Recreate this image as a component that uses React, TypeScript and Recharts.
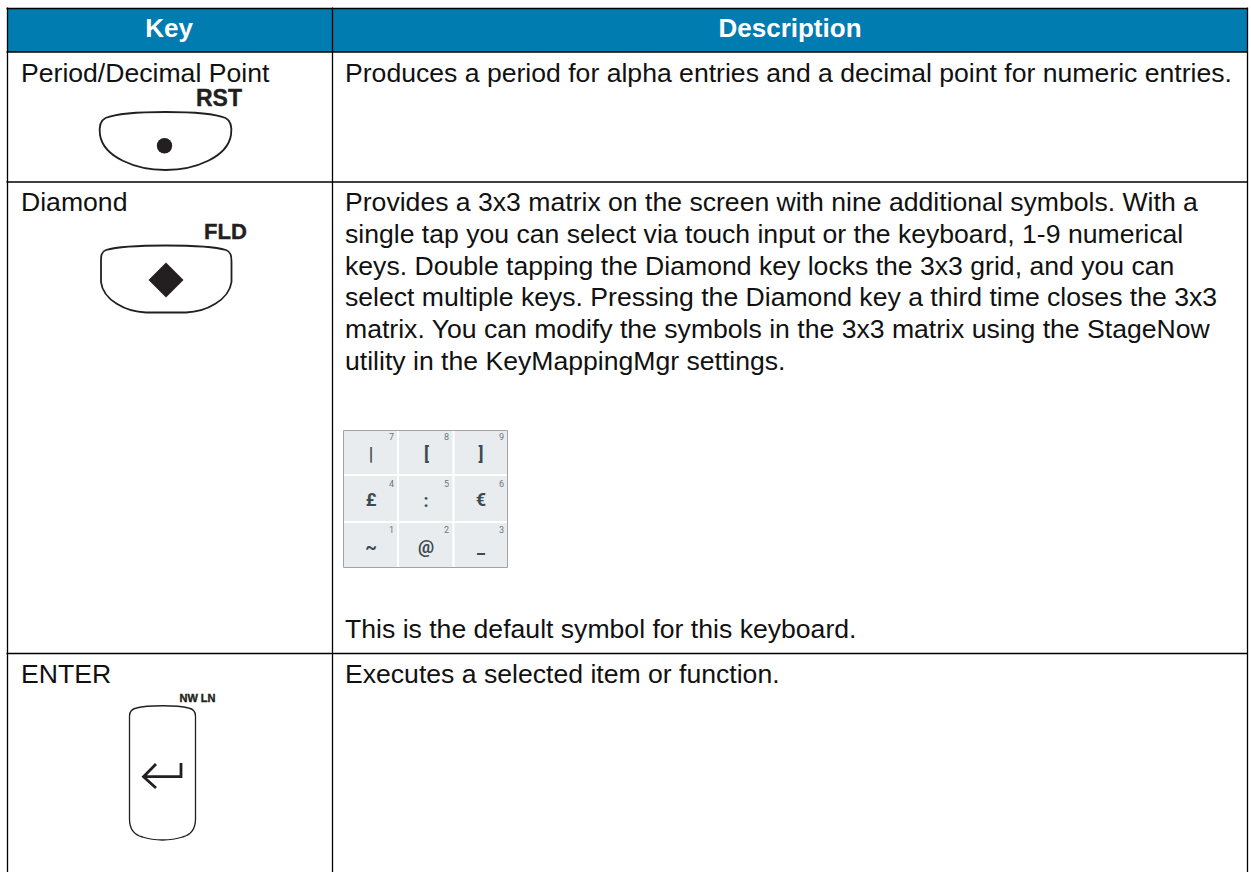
import { ComposedChart, XAxis, YAxis, Scatter, ReferenceLine, ReferenceArea } from 'recharts';

const WIDTH = 1251;
const HEIGHT = 872;

// table grid, in pixel units of the hidden axes
const columnEdges = [7.5, 332.5, 1247.5];
const rowEdges = [8.5, 52, 182, 653.5];

const headerLabels = [
  { x: 169, y: 37, text: 'Key' },
  { x: 790, y: 37, text: 'Description' },
];

const keyNames = [
  { x: 21, y: 81.5, text: 'Period/Decimal Point' },
  { x: 21, y: 211, text: 'Diamond' },
  { x: 21, y: 683, text: 'ENTER' },
];

const keyCaps = [
  { x: 219, y: 106, text: 'RST', size: 23 },
  { x: 225.5, y: 238.5, text: 'FLD', size: 22 },
  { x: 197.5, y: 702, text: 'NW LN', size: 11 },
];

const descriptionLines = [
  { x: 345, y: 81.5, text: 'Produces a period for alpha entries and a decimal point for numeric entries.' },
  { x: 345, y: 211, text: 'Provides a 3x3 matrix on the screen with nine additional symbols. With a' },
  { x: 345, y: 242.5, text: 'single tap you can select via touch input or the keyboard, 1-9 numerical' },
  { x: 345, y: 274.5, text: 'keys. Double tapping the Diamond key locks the 3x3 grid, and you can' },
  { x: 345, y: 306, text: 'select multiple keys. Pressing the Diamond key a third time closes the 3x3' },
  { x: 345, y: 338, text: 'matrix. You can modify the symbols in the 3x3 matrix using the StageNow' },
  { x: 345, y: 370, text: 'utility in the KeyMappingMgr settings.' },
  { x: 345, y: 637.5, text: 'This is the default symbol for this keyboard.' },
  { x: 345, y: 683, text: 'Executes a selected item or function.' },
];

const matrixColumns = [[344, 397], [399, 452.5], [454.5, 507]];
const matrixRows = [[431, 474], [476, 521], [523, 567]];

const matrixSymbols = [
  { x: 371, y: 453, text: '|' }, { x: 426.5, y: 453, text: '[' }, { x: 481, y: 453, text: ']' },
  { x: 371, y: 499, text: '£' }, { x: 426, y: 500, text: ':' }, { x: 481, y: 499, text: '€' },
  { x: 371, y: 546, text: '~' }, { x: 426, y: 546, text: '@' }, { x: 481, y: 546, text: '_' },
];

const matrixDigits = [
  { x: 391.5, y: 436.5, text: '7' }, { x: 446.5, y: 436.5, text: '8' }, { x: 501.5, y: 436.5, text: '9' },
  { x: 391.5, y: 483.5, text: '4' }, { x: 446.5, y: 483.5, text: '5' }, { x: 501.5, y: 483.5, text: '6' },
  { x: 391.5, y: 530, text: '1' }, { x: 446.5, y: 530, text: '2' }, { x: 501.5, y: 530, text: '3' },
];

const keyIcons = [
  { x: 165.5, y: 145, kind: 'dot' },
  { x: 166, y: 280, kind: 'diamond' },
  { x: 162.5, y: 775, kind: 'enter' },
];

const FONT = '"Liberation Sans", Arial, sans-serif';

const textShape = (opts: any) => (props: any) => {
  const { cx, cy, payload } = props;
  return (
    <text x={cx} y={cy} fontFamily={FONT} {...opts} fontSize={payload.size ?? opts.fontSize}>
      {payload.text}
    </text>
  );
};

const iconShape = (props: any) => {
  const { cx, cy, payload } = props;
  if (payload.kind === 'dot') {
    return (
      <g transform={`translate(${cx} ${cy})`}>
        <path d="M-60 -27 C-40 -35 40 -35 60 -27 C66 -24 66.5 -17 65.5 -10 C62 12 30 25 0 25 C-30 25 -62 12 -65.5 -10 C-66.5 -17 -66 -24 -60 -27 Z" fill="none" stroke="#231f20" strokeWidth={1.8} />
        <circle cx={-1} cy={0.7} r={7.7} fill="#231f20" />
      </g>
    );
  }
  if (payload.kind === 'diamond') {
    return (
      <g transform={`translate(${cx} ${cy})`}>
        <path d="M-60 -30 C-40 -36 40 -36 60 -30 C65 -28 65.5 -24 65.5 -18 L65.5 2 C63 20 40 32 20 32.5 L-20 32.5 C-40 32 -63 20 -65 2 L-65 -18 C-65 -24 -65 -28 -60 -30 Z" fill="none" stroke="#231f20" strokeWidth={1.8} />
        <path d="M0 -17.5 L17.5 0 L0 17.5 L-17.5 0 Z" fill="#231f20" />
      </g>
    );
  }
  return (
    <g transform={`translate(${cx} ${cy})`}>
      <path d="M-26 -67 C-15 -70 15 -70 26 -67 C31 -66 33 -63 33 -59 L33 44 C33 54 28 60 20 62 C8 66 -8 66 -20 62 C-28 60 -33 54 -33 44 L-33 -59 C-33 -63 -31 -66 -26 -67 Z" fill="none" stroke="#231f20" strokeWidth={1.3} />
      <path d="M18.5 -12 L18.5 1.7 L-18 1.7 M-6.5 -11 L-19 1.7 L-6.5 13" fill="none" stroke="#231f20" strokeWidth={2.8} />
    </g>
  );
};

const gridLine = '#000000';
const gridWidth = 1.3;

export default function App() {
  return (
    <div style={{ position: 'absolute', left: 0, top: 0, width: WIDTH, height: HEIGHT, background: '#fff' }}>
      <ComposedChart width={WIDTH} height={HEIGHT} margin={{ top: 0, right: 0, bottom: 0, left: 0 }} data={[]}>
        <XAxis type="number" dataKey="x" domain={[0, WIDTH]} hide />
        <YAxis type="number" dataKey="y" domain={[0, HEIGHT]} reversed hide />

        <ReferenceArea x1={columnEdges[0]} x2={columnEdges[2]} y1={rowEdges[0]} y2={rowEdges[1]} fill="#007cb0" fillOpacity={1} stroke="none" />

        {matrixColumns.flatMap((c, i) =>
          matrixRows.map((r, j) => (
            <ReferenceArea key={`${i}-${j}`} x1={c[0]} x2={c[1]} y1={r[0]} y2={r[1]} fill="#e9ecee" fillOpacity={1} stroke="none" />
          )),
        )}
        <ReferenceArea x1={343.5} x2={507.5} y1={430.5} y2={567.5} fill="none" stroke="#a0a4a6" strokeWidth={1} />

        {rowEdges.map((y) => (
          <ReferenceLine
            key={y}
            segment={[{ x: 6.5, y }, { x: columnEdges[2], y }]}
            stroke={gridLine}
            strokeWidth={gridWidth}
          />
        ))}
        {columnEdges.map((x) => (
          <ReferenceLine
            key={x}
            segment={[{ x, y: 7.5 }, { x, y: HEIGHT }]}
            stroke={gridLine}
            strokeWidth={gridWidth}
          />
        ))}

        <Scatter data={headerLabels} isAnimationActive={false} shape={textShape({ fontSize: 26, fontWeight: 700, fill: '#fff', textAnchor: 'middle' })} />
        <Scatter data={keyNames} isAnimationActive={false} shape={textShape({ fontSize: 26.6, fill: '#111' })} />
        <Scatter data={descriptionLines} isAnimationActive={false} shape={textShape({ fontSize: 26.6, fill: '#111' })} />
        <Scatter data={keyCaps} isAnimationActive={false} shape={textShape({ fontWeight: 700, fill: '#231f20', stroke: '#231f20', strokeWidth: 0.4, textAnchor: 'middle' })} />
        <Scatter data={keyIcons} isAnimationActive={false} shape={iconShape} />
        <Scatter data={matrixSymbols} isAnimationActive={false} shape={textShape({ fontSize: 18, fontWeight: 700, fontFamily: 'Roboto', fill: '#3c4a52', textAnchor: 'middle', dominantBaseline: 'central' })} />
        <Scatter data={matrixDigits} isAnimationActive={false} shape={textShape({ fontSize: 9, fontFamily: 'Roboto', fill: '#6b777d', textAnchor: 'middle', dominantBaseline: 'central' })} />
      </ComposedChart>
    </div>
  );
}
